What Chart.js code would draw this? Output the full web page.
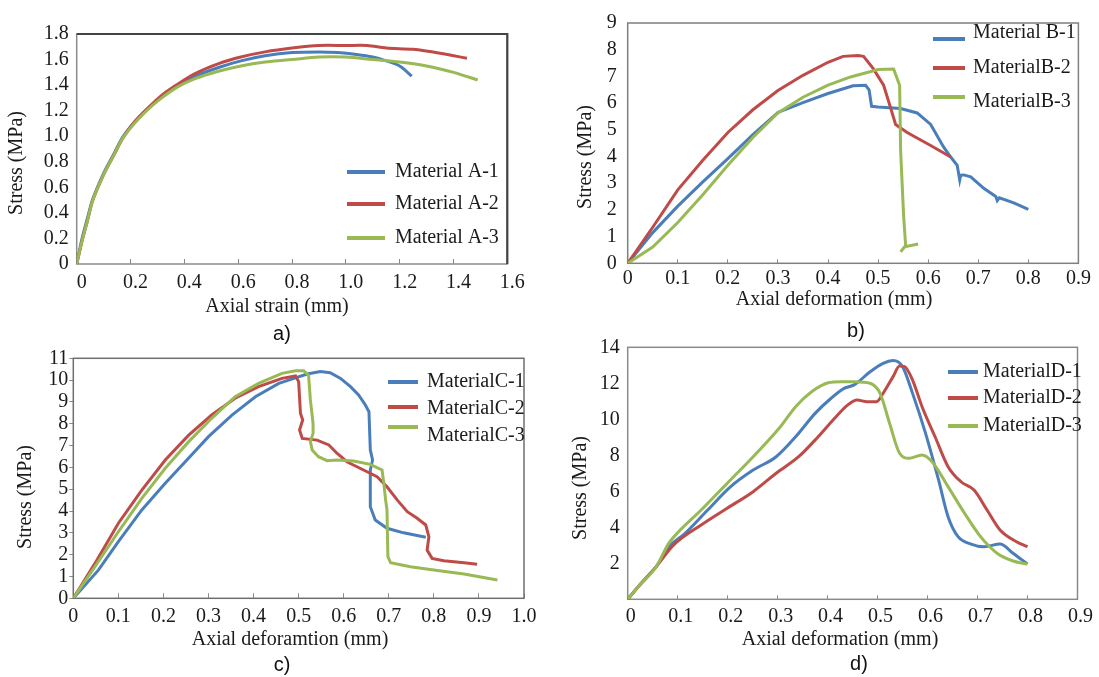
<!DOCTYPE html>
<html>
<head>
<meta charset="utf-8">
<script src="https://cdn.jsdelivr.net/npm/chart.js@4.4.0/dist/chart.umd.min.js"></script>
<style>
  body { margin: 0; background: #fff; }
  #page { position: relative; width: 1099px; height: 677px; overflow: hidden; background: #fff; }
  canvas { position: absolute; }
  .tag { position: absolute; font-family: "Liberation Sans", Arial, sans-serif; font-size: 20px; color: #111; transform: translate(-50%, -50%); }
</style>
</head>
<body>
<div id="page">
  <canvas id="chartA" width="550" height="325" style="left:0;top:0"></canvas>
  <canvas id="chartB" width="549" height="325" style="left:550px;top:0"></canvas>
  <canvas id="chartC" width="550" height="352" style="left:0;top:325px"></canvas>
  <canvas id="chartD" width="549" height="352" style="left:550px;top:325px"></canvas>
  <div class="tag" style="left:282px;top:333px">a)</div>
  <div class="tag" style="left:856px;top:330px">b)</div>
  <div class="tag" style="left:282px;top:664px">c)</div>
  <div class="tag" style="left:859px;top:663px">d)</div>
</div>
<script>
const colors = ['#4a7ebb', '#be4b48', '#98b954'];

// a) axial strain vs stress
const aLabels = ['Material A-1', 'Material A-2', 'Material A-3'];
const a1X = [0, 0.02, 0.04, 0.06, 0.10, 0.14, 0.17, 0.21, 0.26, 0.31, 0.37, 0.44, 0.53, 0.61, 0.70, 0.80, 0.90, 0.97, 1.04, 1.10, 1.15, 1.20, 1.245];
const a1Y = [0, 0.20, 0.36, 0.51, 0.71, 0.87, 0.99, 1.10, 1.21, 1.30, 1.39, 1.47, 1.54, 1.59, 1.63, 1.655, 1.66, 1.655, 1.64, 1.62, 1.59, 1.55, 1.47];
const a2X = [0, 0.02, 0.04, 0.06, 0.10, 0.14, 0.17, 0.21, 0.26, 0.31, 0.37, 0.44, 0.53, 0.61, 0.70, 0.80, 0.90, 1.00, 1.08, 1.15, 1.25, 1.35, 1.45];
const a2Y = [0, 0.18, 0.34, 0.50, 0.70, 0.86, 0.98, 1.10, 1.21, 1.31, 1.40, 1.49, 1.57, 1.62, 1.66, 1.69, 1.71, 1.71, 1.71, 1.69, 1.68, 1.65, 1.61];
const a3X = [0, 0.02, 0.04, 0.06, 0.10, 0.14, 0.17, 0.21, 0.26, 0.31, 0.37, 0.44, 0.53, 0.61, 0.70, 0.80, 0.90, 1.00, 1.10, 1.20, 1.30, 1.40, 1.49];
const a3Y = [0, 0.18, 0.34, 0.50, 0.70, 0.86, 0.98, 1.09, 1.20, 1.29, 1.38, 1.45, 1.51, 1.55, 1.58, 1.60, 1.62, 1.62, 1.60, 1.58, 1.55, 1.50, 1.44];

// b)
const bLabels = ['Material B-1', 'MaterialB-2', 'MaterialB-3'];
const b1X = [0, 0.05, 0.10, 0.15, 0.20, 0.25, 0.30, 0.35, 0.40, 0.45, 0.475, 0.482, 0.487, 0.50, 0.545, 0.578, 0.605, 0.631, 0.645, 0.658, 0.663, 0.665, 0.671, 0.685, 0.711, 0.735, 0.738, 0.742, 0.771, 0.80];
const b1Y = [0, 1.15, 2.14, 3.05, 3.92, 4.82, 5.65, 6.02, 6.36, 6.65, 6.67, 6.50, 5.88, 5.85, 5.80, 5.63, 5.20, 4.35, 3.98, 3.67, 3.12, 3.30, 3.31, 3.24, 2.81, 2.50, 2.35, 2.45, 2.26, 2.02];
const b2X = [0, 0.05, 0.10, 0.15, 0.20, 0.25, 0.30, 0.35, 0.40, 0.43, 0.46, 0.471, 0.49, 0.511, 0.525, 0.535, 0.558, 0.605, 0.645];
const b2Y = [0, 1.35, 2.75, 3.86, 4.90, 5.75, 6.47, 7.04, 7.53, 7.75, 7.78, 7.75, 7.30, 6.67, 5.82, 5.20, 4.90, 4.41, 3.98];
const b3X = [0, 0.05, 0.10, 0.15, 0.20, 0.25, 0.30, 0.35, 0.40, 0.445, 0.50, 0.531, 0.543, 0.545, 0.551, 0.555, 0.545, 0.553, 0.58];
const b3Y = [0, 0.61, 1.53, 2.57, 3.67, 4.71, 5.63, 6.22, 6.67, 6.98, 7.26, 7.28, 6.67, 4.22, 1.77, 0.67, 0.43, 0.62, 0.72];

// c)
const cLabels = ['MaterialC-1', 'MaterialC-2', 'MaterialC-3'];
const c1X = [0, 0.056, 0.10, 0.152, 0.204, 0.252, 0.30, 0.352, 0.404, 0.456, 0.493, 0.519, 0.548, 0.57, 0.593, 0.615, 0.633, 0.648, 0.656, 0.659, 0.664, 0.659, 0.659, 0.67, 0.696, 0.733, 0.782];
const c1Y = [0, 1.30, 2.60, 4.05, 5.27, 6.34, 7.41, 8.40, 9.24, 9.85, 10.10, 10.28, 10.39, 10.34, 10.08, 9.70, 9.32, 8.86, 8.55, 6.80, 6.34, 5.88, 4.20, 3.59, 3.21, 3.00, 2.80];
const c2X = [0, 0.048, 0.10, 0.152, 0.204, 0.256, 0.307, 0.359, 0.411, 0.463, 0.493, 0.50, 0.504, 0.509, 0.502, 0.508, 0.541, 0.567, 0.585, 0.607, 0.644, 0.674, 0.696, 0.719, 0.741, 0.763, 0.782, 0.789, 0.785, 0.796, 0.822, 0.867, 0.896];
const c2Y = [0, 1.60, 3.44, 4.96, 6.34, 7.48, 8.40, 9.17, 9.70, 10.08, 10.19, 9.93, 8.48, 8.17, 7.71, 7.33, 7.25, 7.03, 6.65, 6.26, 5.88, 5.57, 5.11, 4.50, 3.97, 3.67, 3.36, 2.82, 2.21, 1.83, 1.72, 1.63, 1.56];
const c3X = [0, 0.048, 0.10, 0.152, 0.204, 0.256, 0.307, 0.359, 0.411, 0.463, 0.493, 0.511, 0.522, 0.526, 0.532, 0.532, 0.526, 0.53, 0.544, 0.563, 0.585, 0.622, 0.659, 0.685, 0.689, 0.693, 0.696, 0.698, 0.704, 0.748, 0.808, 0.867, 0.941];
const c3Y = [0, 1.45, 3.05, 4.58, 5.96, 7.18, 8.25, 9.24, 9.85, 10.31, 10.43, 10.43, 10.23, 9.09, 8.02, 7.56, 7.18, 6.80, 6.49, 6.31, 6.34, 6.29, 6.14, 5.88, 5.27, 4.50, 4.05, 1.91, 1.63, 1.45, 1.27, 1.11, 0.84];

// d)
const dLabels = ['MaterialD-1', 'MaterialD-2', 'MaterialD-3'];
const d1X = [0, 0.024, 0.057, 0.082, 0.115, 0.16, 0.206, 0.251, 0.297, 0.336, 0.375, 0.407, 0.433, 0.453, 0.485, 0.511, 0.531, 0.55, 0.57, 0.596, 0.622, 0.641, 0.661, 0.687, 0.713, 0.745, 0.771, 0.80];
const d1Y = [0, 0.79, 1.81, 2.90, 3.67, 4.96, 6.26, 7.18, 7.92, 9.03, 10.33, 11.17, 11.72, 11.91, 12.64, 13.11, 13.26, 12.92, 11.44, 9.22, 6.63, 4.59, 3.48, 3.07, 2.92, 3.07, 2.56, 1.96];
const d2X = [0, 0.024, 0.057, 0.092, 0.147, 0.199, 0.251, 0.297, 0.342, 0.381, 0.414, 0.44, 0.459, 0.479, 0.498, 0.511, 0.531, 0.544, 0.554, 0.57, 0.589, 0.615, 0.641, 0.667, 0.693, 0.719, 0.745, 0.778, 0.80];
const d2Y = [0, 0.79, 1.81, 3.02, 4.13, 5.06, 5.98, 7.00, 7.92, 9.03, 10.06, 10.79, 11.07, 10.98, 10.98, 11.44, 12.37, 12.96, 12.92, 12.18, 10.70, 9.03, 7.37, 6.53, 6.07, 4.96, 3.85, 3.20, 2.92];
const d3X = [0, 0.024, 0.057, 0.082, 0.099, 0.147, 0.199, 0.251, 0.303, 0.336, 0.368, 0.401, 0.427, 0.453, 0.485, 0.505, 0.524, 0.544, 0.563, 0.589, 0.609, 0.641, 0.674, 0.706, 0.739, 0.771, 0.80];
const d3Y = [0, 0.79, 1.81, 3.11, 3.67, 4.96, 6.44, 7.92, 9.50, 10.70, 11.53, 12.03, 12.09, 12.09, 12.00, 11.44, 9.78, 8.11, 7.83, 8.02, 7.64, 6.26, 4.78, 3.48, 2.56, 2.13, 1.96];

Chart.defaults.font.family = '"Liberation Serif", "Times New Roman", serif';
Chart.defaults.font.size = 20;
Chart.defaults.color = '#1a1a1a';

function toPoints(xs, ys) {
    return xs.map((x, i) => ({x: x, y: ys[i]}));
}

function fmt1(v) {
    if (v === 0) return '0';
    return v.toFixed(1);
}

// box round the plot area
const framePlugin = {
    id: 'frame',
    beforeDatasetsDraw(chart, args, opts) {
        const {left, top, right, bottom} = chart.chartArea;
        const ctx = chart.ctx;
        ctx.save();
        ctx.strokeStyle = opts.color;
        ctx.lineWidth = opts.width;
        ctx.strokeRect(left, top, right - left, bottom - top);
        if (opts.topColor) {
            ctx.strokeStyle = opts.topColor;
            ctx.lineWidth = opts.topWidth;
            ctx.beginPath();
            ctx.moveTo(left, top);
            ctx.lineTo(right, top);
            ctx.lineTo(right, bottom);
            ctx.stroke();
        }
        ctx.restore();
    }
};

// legend drawn inside the plot
const keyPlugin = {
    id: 'keyBox',
    afterDatasetsDraw(chart, args, opts) {
        const ctx = chart.ctx;
        ctx.save();
        ctx.font = '20px "Liberation Serif", "Times New Roman", serif';
        ctx.textBaseline = 'middle';
        ctx.textAlign = 'left';
        chart.data.datasets.forEach((ds, i) => {
            ctx.strokeStyle = ds.borderColor;
            ctx.lineWidth = 4;
            ctx.beginPath();
            ctx.moveTo(opts.x0, opts.lineY[i]);
            ctx.lineTo(opts.x1, opts.lineY[i]);
            ctx.stroke();
            ctx.fillStyle = '#1a1a1a';
            ctx.fillText(ds.label, opts.textX, opts.textY[i]);
        });
        ctx.restore();
    }
};

// axis titles, placed like in the figure
const axisTextPlugin = {
    id: 'axisText',
    afterDraw(chart, args, opts) {
        const ctx = chart.ctx;
        ctx.save();
        ctx.font = '20px "Liberation Serif", "Times New Roman", serif';
        ctx.fillStyle = '#1a1a1a';
        ctx.textAlign = 'center';
        ctx.textBaseline = 'middle';
        ctx.fillText(opts.xText, opts.xPos[0], opts.xPos[1]);
        ctx.translate(opts.yPos[0], opts.yPos[1]);
        ctx.rotate(-Math.PI / 2);
        ctx.fillText(opts.yText, 0, 0);
        ctx.restore();
    }
};

function makeDatasets(labels, series, smooth) {
    return series.map((s, i) => ({
        label: labels[i],
        data: toPoints(s[0], s[1]),
        showLine: true,
        borderColor: colors[i],
        backgroundColor: colors[i],
        borderWidth: 3,
        pointRadius: 0,
        tension: smooth === 'curve' ? 0.3 : 0,
        cubicInterpolationMode: smooth === 'mono' ? 'monotone' : 'default',
        order: 3 - i
    }));
}

function makePanel(id, cfg) {
    const canvas = document.getElementById(id);
    const W = canvas.width;
    const H = canvas.height;
    const area = cfg.area;
    return new Chart(canvas, {
        type: 'scatter',
        data: { datasets: makeDatasets(cfg.labels, cfg.series, cfg.smooth) },
        options: {
            responsive: false,
            animation: false,
            devicePixelRatio: 1,
            layout: { padding: { left: 0, bottom: 0, top: area.top, right: W - area.right } },
            plugins: {
                legend: { display: false },
                tooltip: { enabled: false },
                frame: cfg.frame,
                keyBox: cfg.key,
                axisText: cfg.titles
            },
            scales: {
                x: {
                    type: 'linear',
                    min: cfg.xMin, max: cfg.xMax,
                    ticks: { stepSize: cfg.xStep, autoSkip: false, maxRotation: 0, padding: cfg.xPad, labelOffset: cfg.xShift || 0, callback: fmt1 },
                    grid: { drawOnChartArea: false, drawTicks: true, tickLength: cfg.xTick, color: '#8a8a8a', tickWidth: 1 },
                    border: { display: false },
                    afterFit: s => { s.height = H - area.bottom; }
                },
                y: {
                    type: 'linear',
                    min: cfg.yMin, max: cfg.yMax,
                    ticks: { stepSize: cfg.yStep, autoSkip: false, padding: cfg.yPad, callback: cfg.yFmt },
                    grid: cfg.yTick
                        ? { drawOnChartArea: false, drawTicks: true, tickLength: cfg.yTick, color: '#8a8a8a', tickWidth: 1 }
                        : { display: false, drawTicks: false },
                    border: { display: false },
                    afterFit: s => { s.width = area.left; }
                }
            }
        },
        plugins: [framePlugin, keyPlugin, axisTextPlugin]
    });
}

makePanel('chartA', {
    labels: aLabels,
    series: [[a1X, a1Y], [a2X, a2Y], [a3X, a3Y]],
    smooth: 'curve',
    area: { left: 76.7, top: 34, right: 507.3, bottom: 264 },
    xMin: 0, xMax: 1.6, xStep: 0.2, xPad: 11.5, xTick: -5, xShift: 5,
    yMin: 0, yMax: 1.8, yStep: 0.2, yPad: 8, yTick: 0, yFmt: fmt1,
    frame: { color: '#8c8c8c', width: 1.5, topColor: '#444', topWidth: 2.2 },
    key: { x0: 347, x1: 385, lineY: [172, 204, 238], textX: 395, textY: [172, 204, 238] },
    titles: { xText: 'Axial strain (mm)', xPos: [277, 307], yText: 'Stress (MPa)', yPos: [17, 163] }
});

makePanel('chartB', {
    labels: bLabels,
    series: [[b1X, b1Y], [b2X, b2Y], [b3X, b3Y]],
    smooth: 'none',
    area: { left: 77.7, top: 18.3, right: 528.4, bottom: 263.3 },
    xMin: 0, xMax: 0.9, xStep: 0.1, xPad: 7, xTick: -4,
    yMin: 0, yMax: 9, yStep: 1, yPad: 11, yTick: 0, yFmt: v => String(v),
    frame: { color: '#7f7f7f', width: 1.5 },
    key: { x0: 383, x1: 415, lineY: [39, 68, 97], textX: 423, textY: [33, 68, 102] },
    titles: { xText: 'Axial deformation (mm)', xPos: [284, 300], yText: 'Stress (MPa)', yPos: [36, 157] }
});

makePanel('chartC', {
    labels: cLabels,
    series: [[c1X, c1Y], [c2X, c2Y], [c3X, c3Y]],
    smooth: 'none',
    area: { left: 73.3, top: 33.3, right: 524, bottom: 273.3 },
    xMin: 0, xMax: 1.0, xStep: 0.1, xPad: 11, xTick: -5,
    yMin: 0, yMax: 11, yStep: 1, yPad: 1, yTick: 4, yFmt: v => String(v),
    frame: { color: '#6f6f6f', width: 1.5 },
    key: { x0: 388, x1: 418, lineY: [57, 82, 102], textX: 427, textY: [57, 84, 111] },
    titles: { xText: 'Axial deforamtion (mm)', xPos: [290, 315], yText: 'Stress (MPa)', yPos: [26, 172] }
});

makePanel('chartD', {
    labels: dLabels,
    series: [[d1X, d1Y], [d2X, d2Y], [d3X, d3Y]],
    smooth: 'mono',
    area: { left: 77.7, top: 22.3, right: 538.7, bottom: 274.3 },
    xMin: 0, xMax: 0.9, xStep: 0.1, xPad: 9, xTick: -4, xShift: 3,
    yMin: 0, yMax: 14, yStep: 2, yPad: 8, yTick: 0, yFmt: v => (v === 0 ? '' : String(v)),
    frame: { color: '#8a8a8a', width: 1.5 },
    key: { x0: 398, x1: 428, lineY: [47, 73, 101], textX: 433, textY: [47, 73, 101] },
    titles: { xText: 'Axial deformation (mm)', xPos: [290, 315], yText: 'Stress (MPa)', yPos: [31, 163] }
});
</script>
</body>
</html>
